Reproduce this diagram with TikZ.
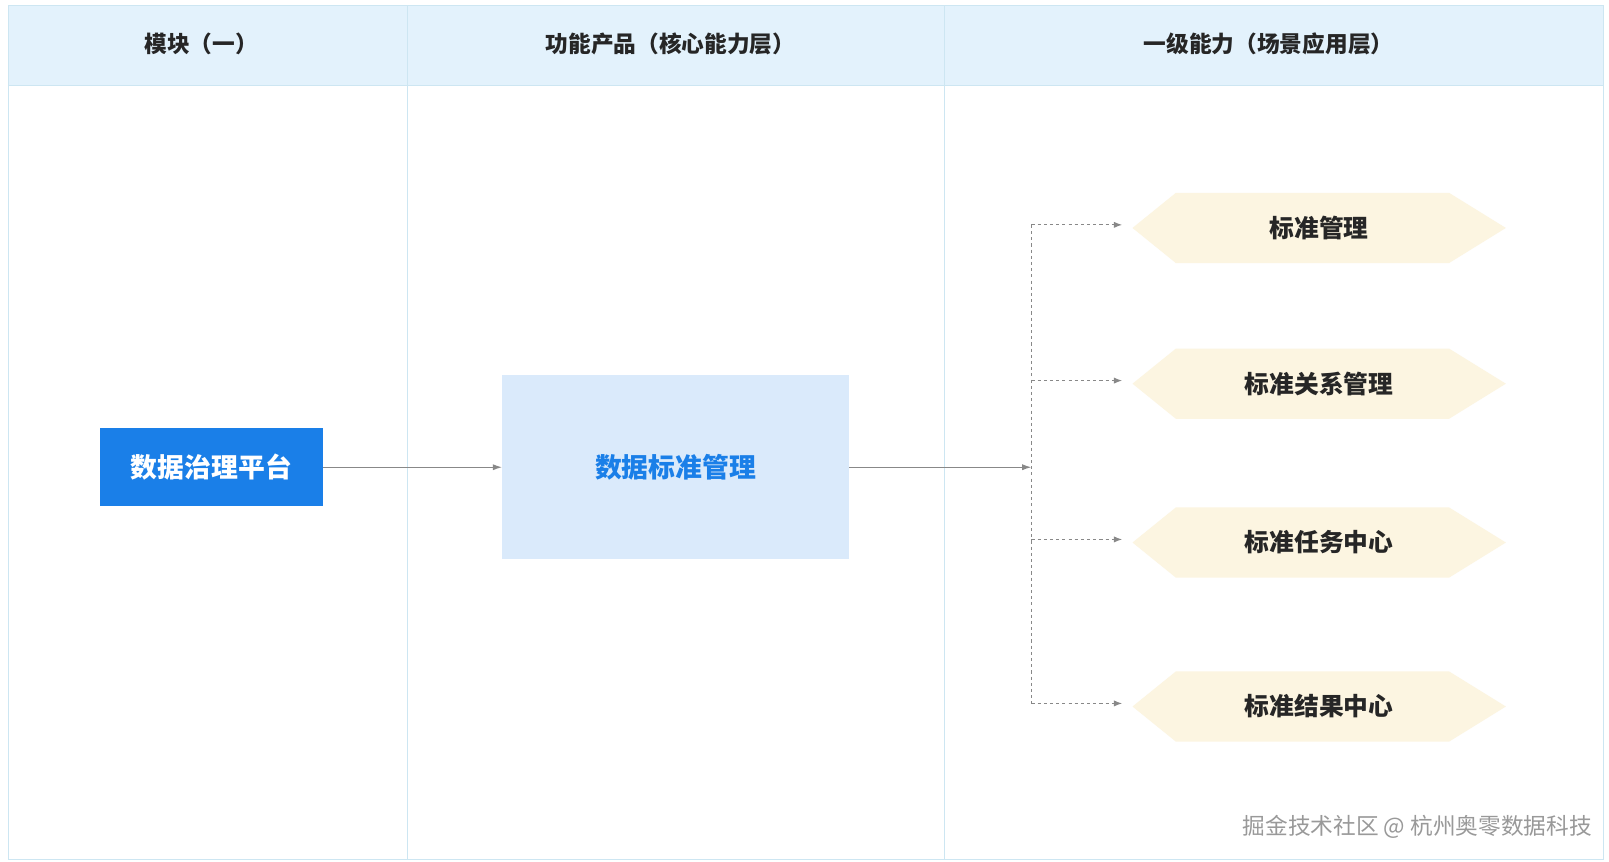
\documentclass[tikz,border=0pt]{standalone}
\usepackage{fontspec}
\setmainfont{Noto Sans CJK SC}
\usetikzlibrary{arrows.meta}
\definecolor{hdr}{HTML}{E3F2FC}
\definecolor{bd}{HTML}{CDE6F2}
\definecolor{blu}{HTML}{1A7FE8}
\definecolor{lb}{HTML}{DAEAFB}
\definecolor{hex}{HTML}{FCF5E1}
\definecolor{ar}{HTML}{888888}
\begin{document}
\begin{tikzpicture}[x=1pt,y=-1pt,
  htext/.style={font=\bfseries\fontsize{22}{26}\selectfont,text=black!85},
  conn/.style={draw=ar,line width=1.2pt,-{Latex[length=9pt,width=6pt]}},
  dconn/.style={draw=ar,line width=1pt,dash pattern=on 3pt off 3pt},
  hexlab/.style={font=\bfseries\fontsize{24}{28}\selectfont,text=black!85}]
\useasboundingbox (0,0) rectangle (1560,835);
\fill[white] (0,0) rectangle (1560,835);
\fill[hdr] (8,5) rectangle (1555,83);
\draw[bd,line width=1.2pt] (8,5) rectangle (1555,833);
\draw[bd,line width=1.2pt] (8,83) -- (1555,83);
\draw[bd,line width=1.2pt] (395,5) -- (395,833);
\draw[bd,line width=1.2pt] (916,5) -- (916,833);
\node[htext] (h1) at (195,43) {模块（一）};
\node[htext] (h2) at (650,43) {功能产品（核心能力层）};
\node[htext] (h3) at (1230,43) {一级能力（场景应用层）};
\node[fill=blu,minimum width=216pt,minimum height=76pt,inner sep=0,text=white,font=\bfseries\fontsize{26}{30}\selectfont] (a) at (205,453) {数据治理平台};
\node[fill=lb,minimum width=336pt,minimum height=178pt,inner sep=0,text=blu,font=\bfseries\fontsize{26}{30}\selectfont] (b) at (655,453) {数据标准管理};
\coordinate (j) at (1000,453);
\draw[conn] (a) -- (b);
\draw[conn] (b) -- (j);
\foreach \n/\y/\t in {1/221/标准管理,2/372/标准关系管理,3/526/标准任务中心,4/685/标准结果中心}{
  \fill[hex] (1098,\y) -- (1140,\y-34) -- (1405,\y-34) -- (1460,\y) -- (1405,\y+34) -- (1140,\y+34) -- cycle;
  \node[hexlab] (x\n) at (1279,\y) {\t};
  \coordinate (e\n) at (1088,\y-3);
  \coordinate (s\n) at (1000,\y-3);
}
\draw[dconn] (s1) -- (s4);
\foreach \n in {1,2,3,4}{\draw[dconn,-{Latex[length=8pt,width=6pt]}] (s\n) -- (e\n);}
\node[anchor=east,text=gray!80,font=\fontsize{22}{26}\selectfont] (w) at (1547,802) {掘金技术社区 @ 杭州奥零数据科技};
\end{tikzpicture}
\end{document}
